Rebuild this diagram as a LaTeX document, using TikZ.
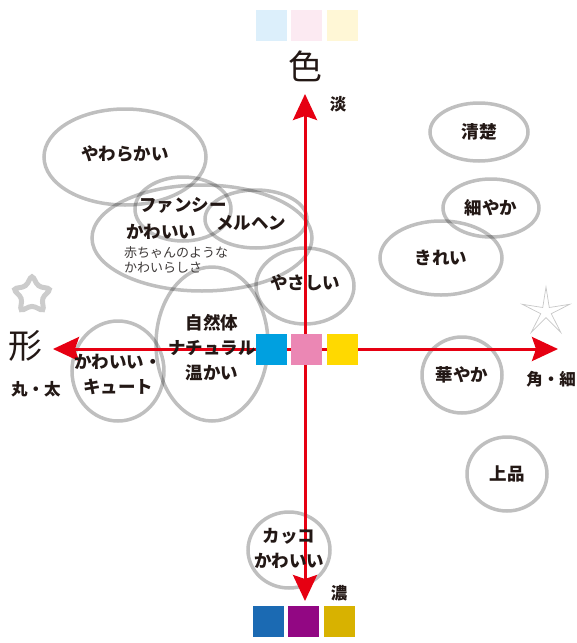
\documentclass[tikz,border=0pt]{standalone}
\usepackage{fontspec}
\setmainfont{Noto Sans CJK JP}
\usetikzlibrary{arrows.meta,shapes,positioning,calc}

\definecolor{ink}{HTML}{231815}
\definecolor{subink}{HTML}{3E3A39}
\definecolor{axisred}{HTML}{E60012}
\definecolor{paleC}{HTML}{DCEFFB}
\definecolor{paleM}{HTML}{FCEAF2}
\definecolor{paleY}{HTML}{FFF7D6}
\definecolor{midC}{HTML}{00A0E0}
\definecolor{midM}{HTML}{EB87B4}
\definecolor{midY}{HTML}{FFD900}
\definecolor{deepC}{HTML}{1B6AB3}
\definecolor{deepM}{HTML}{920783}
\definecolor{deepY}{HTML}{D8B200}

\tikzset{
  oval/.style={ellipse, draw=black, draw opacity=.25, line width=3.5pt, inner sep=0pt},
  word/.style={font=\bfseries\fontsize{17.5}{25}\selectfont, text=ink, align=center, inner sep=0pt},
  note/.style={font=\fontsize{13}{14.5}\selectfont, text=subink, align=left, inner sep=0pt},
  axisname/.style={font=\fontsize{34}{36}\selectfont, text=ink, inner sep=0pt},
  pole/.style={font=\bfseries\fontsize{16.5}{18}\selectfont, text=ink, inner sep=0pt},
  swatch/.style={minimum size=31pt, inner sep=0pt},
  axis/.style={draw=axisred, line width=3pt, -{Stealth[length=26pt,width=24pt,inset=4pt]}}
}

\begin{document}
\begin{tikzpicture}[x=1pt,y=-1pt]
\useasboundingbox (0,0) rectangle (577,643);

% ovals
\node[oval, minimum width=162pt, minimum height=96pt] (yawaraka) at (125,157) {};
\node[oval, minimum width=98pt, minimum height=58pt] (seiso) at (479,132) {};
\node[oval, minimum width=96pt, minimum height=58pt] (komayaka) at (491,208) {};
\node[oval, minimum width=122pt, minimum height=74pt] (kirei) at (441,258) {};
\node[oval, minimum width=80pt, minimum height=76pt] (hanayaka) at (462,375) {};
\node[oval, minimum width=80pt, minimum height=74pt] (johin) at (507,474) {};
\node[oval, minimum width=82pt, minimum height=76pt] (kakko) at (289,550) {};
\node[oval, minimum width=92pt, minimum height=100pt] (cute) at (118,371) {};
\node[oval, minimum width=112pt, minimum height=154pt] (natural) at (212,344) {};
\node[oval, minimum width=98pt, minimum height=76pt] (yasashii) at (305,286) {};
\node[oval, minimum width=96pt, minimum height=64pt] (fancy) at (183,209) {};
\node[oval, minimum width=102pt, minimum height=58pt] (marchen) at (256,219) {};
\node[oval, minimum width=220pt, minimum height=106pt] (kawaii) at (202,238) {};

% axes
\coordinate (origin) at (305,349);
\coordinate (north) at (305,94);
\coordinate (south) at (305,601);
\coordinate (west) at (53,349);
\coordinate (east) at (558,349);
\draw[axis] (origin) -- (north);
\draw[axis] (origin) -- (south);
\draw[axis] (origin) -- (west);
\draw[axis] (origin) -- (east);

% colour swatches
\node[swatch, fill=paleC] (topC) at (271.5,25.5) {};
\node[swatch, fill=paleM, right=4pt of topC] (topM) {};
\node[swatch, fill=paleY, right=4pt of topM] (topY) {};
\node[swatch, fill=midC] (midC) at (271.5,349) {};
\node[swatch, fill=midM, right=4pt of midC] (midM) {};
\node[swatch, fill=midY, right=4pt of midM] (midY) {};
\node[swatch, fill=deepC] (lowC) at (268.5,621) {};
\node[swatch, fill=deepM, right=4pt of lowC] (lowM) {};
\node[swatch, fill=deepY, right=4pt of lowM] (lowY) {};

% stars
\node[star, star points=5, star point ratio=1.9, minimum size=40pt, inner sep=0pt,
      draw=black!20, line width=5pt, rounded corners=3.5pt] (roundstar) at (32,295) {};
\node[star, star points=5, star point ratio=4.5, minimum size=50pt, inner sep=0pt,
      draw=black!22, line width=.7pt] (sharpstar) at (546,312) {};

% axis names
\node[axisname] (iro) at (305,66) {色};
\node[axisname] (katachi) at (26,346) {形};
\node[pole] (usui) at (338,104) {淡};
\node[pole] (koi) at (339,593) {濃};
\node[pole] (maru) at (36,389) {丸・太};
\node[pole] (kado) at (551,379) {角・細};

% words
\node[word] at (yawaraka) [yshift=3pt] {やわらかい};
\node[word] at (seiso) {清楚};
\node[word] at (komayaka) {細やか};
\node[word] at (kirei) {きれい};
\node[word] at (hanayaka) {華やか};
\node[word] at (johin) {上品};
\node[word] at (kakko) [yshift=2pt] {カッコ\\かわいい};
\node[word] at (cute) [yshift=-3pt] {かわいい・\\キュート};
\node[word] at (natural) [yshift=-4pt] {自然体\\ナチュラル\\温かい};
\node[word] at (yasashii) [yshift=3pt] {やさしい};
\node[word] at (183,205) {ファンシー};
\node[word] at (251,223) {メルヘン};
\node[word] at (161,232) {かわいい};
\node[note, anchor=west] at (124,260) {赤ちゃんのような\\かわいらしさ};
\end{tikzpicture}
\end{document}
